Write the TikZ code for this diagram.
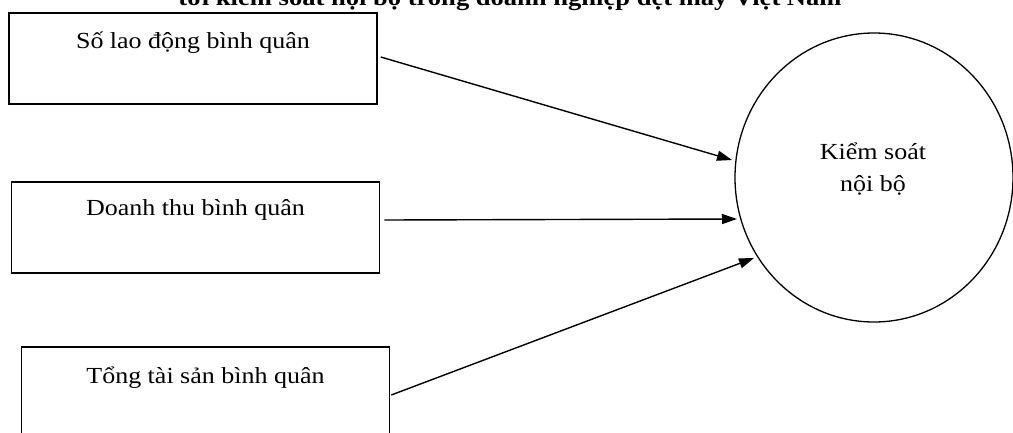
\documentclass[tikz,border=0pt]{standalone}
\usepackage{fontspec}
\setmainfont[FakeStretch=1.13]{Liberation Serif}
\usetikzlibrary{arrows.meta,calc,shapes.geometric}
\tikzset{
  factorbox/.style={draw=black, line width=1.5pt, inner sep=0pt, minimum width=368pt, minimum height=91pt,
    font=\fontsize{23}{27}\selectfont, text depth=56pt, text height=35pt},
  target/.style={draw=black, line width=1.3pt, ellipse, inner sep=0pt, minimum width=278pt, minimum height=289pt},
  targettext/.style={font=\fontsize{23}{32}\selectfont, anchor=base},
  link/.style={line width=1.4pt, -{Triangle[length=15pt,width=10pt]}},
  titletext/.style={font=\bfseries\fontsize{23.5}{27}\selectfont, anchor=base}
}
\begin{document}
\begin{tikzpicture}[x=1pt,y=-1pt]
\useasboundingbox (0,0) rectangle (1013,432);
\clip (0,0) rectangle (1013,432);
\node[titletext] (title) at (510,5) {tới kiểm soát nội bộ trong doanh nghiệp dệt may Việt Nam};
\node[factorbox] (b1) at (193,58.5) {Số lao động bình quân};
\node[factorbox, text height=33pt, text depth=58pt] (b2) at (195.5,227.5) {Doanh thu bình quân};
\node[factorbox, text height=36pt, text depth=55pt] (b3) at (205.5,392.5) {Tổng tài sản bình quân};
\node[target] (c) at (874,177.5) {};
\node[targettext] (ct1) at (873,159) {Kiểm soát};
\node[targettext] (ct2) at (873,191) {nội bộ};
\coordinate (t1) at ($(c.center)+(-142,-17.5)$);
\coordinate (t2) at ($(c.center)+(-137,41.5)$);
\coordinate (t3) at ($(c.center)+(-120,80.5)$);
\draw[link] ($(b1.east)+(3,-1.5)$) -- (t1);
\draw[link] ($(b2.east)+(4,-7.5)$) -- (t2);
\draw[link] ($(b3.east)+(1,2.5)$) -- (t3);
\end{tikzpicture}
\end{document}
